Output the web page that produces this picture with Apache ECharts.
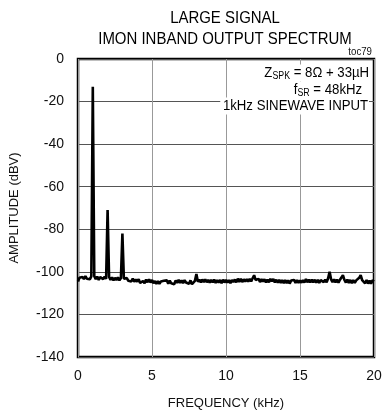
<!DOCTYPE html>
<html>
<head>
<meta charset="utf-8">
<script src="https://cdn.jsdelivr.net/npm/echarts@6/dist/echarts.min.js"></script>
<style>
html,body{margin:0;padding:0;background:#fff;}
#chart{width:385px;height:415px;}
</style>
</head>
<body>
<div id="chart"></div>
<script>
// Spectrum samples, one value every 0.1 kHz from 0.0 to 20.0 kHz (dBV)
const FREQ_START = 0;
const FREQ_STEP = 0.1;
const amp_0_to_5 = [
  -104.5,-102.8,-103.6,-102.4,-103.4,-102.0,-103.2,-102.3,-103.5,-102.1,
  -13.0,-102.0,-103.4,-102.2,-103.8,-102.5,-101.8,-103.4,-102.2,-103.3,
  -71.0,-102.4,-103.8,-102.6,-104.0,-102.8,-103.9,-102.6,-104.0,-102.9,
  -82.0,-103.2,-103.8,-102.9,-104.2,-103.3,-104.5,-103.2,-104.6,-103.6,
  -104.6,-103.5,-105.2,-106.0,-104.3,-105.4,-103.6,-104.9,-103.5,-105.0
];
const amp_5_to_10 = [
  -103.8,-105.3,-104.3,-105.6,-104.4,-105.6,-104.5,-105.4,-104.2,-105.1,
  -104.0,-105.6,-104.1,-105.4,-104.6,-105.8,-104.0,-105.2,-103.8,-105.2,
  -104.0,-105.3,-103.9,-105.0,-104.2,-105.6,-104.0,-105.8,-106.0,-104.2,
  -101.0,-104.6,-103.6,-105.0,-103.6,-104.8,-103.5,-104.9,-103.8,-105.0,
  -103.8,-104.9,-103.6,-105.2,-103.9,-105.0,-103.8,-105.3,-103.7,-105.0
];
const amp_10_to_15 = [
  -103.8,-105.1,-103.9,-105.3,-103.8,-104.8,-103.6,-104.9,-103.2,-104.7,
  -103.3,-104.8,-103.5,-104.5,-103.4,-104.6,-103.3,-104.5,-103.0,-101.6,
  -103.8,-104.6,-103.3,-104.8,-103.4,-104.5,-103.5,-105.0,-103.6,-104.9,
  -103.3,-104.4,-103.4,-105.0,-103.7,-105.1,-103.8,-105.2,-103.9,-105.3,
  -103.9,-105.3,-104.0,-105.5,-104.1,-104.9,-103.8,-105.2,-103.9,-105.2
];
const amp_15_to_20 = [
  -104.0,-105.1,-103.9,-105.0,-103.4,-104.9,-103.6,-105.0,-103.6,-105.0,
  -103.7,-105.1,-103.8,-105.2,-103.9,-103.3,-104.8,-103.7,-104.9,-103.0,
  -100.0,-103.5,-104.9,-103.5,-105.0,-103.6,-105.1,-103.7,-102.8,-101.6,
  -103.8,-105.0,-103.6,-105.2,-103.8,-105.3,-103.9,-105.2,-104.0,-103.6,
  -102.8,-101.5,-103.9,-104.8,-105.4,-103.8,-105.5,-104.1,-105.6,-104.0,
  -104.5
];
const amplitude = [].concat(amp_0_to_5, amp_5_to_10, amp_10_to_15, amp_15_to_20);

const xTicks = [0, 5, 10, 15, 20];
const yTicks = [0, -20, -40, -60, -80, -100, -120, -140];

const titleLines = ['LARGE SIGNAL', 'IMON INBAND OUTPUT SPECTRUM'];
const xName = 'FREQUENCY (kHz)';
const yName = 'AMPLITUDE (dBV)';
const tocLabel = 'toc79';

const seriesData = amplitude.map((v, i) => [+(FREQ_START + i * FREQ_STEP).toFixed(1), v]);

const FONT = '"Liberation Sans", Arial, sans-serif';
const chart = echarts.init(document.getElementById('chart'), null, {renderer: 'canvas'});

const G = {left: 76, top: 59, right: 11, bottom: 56};
const NARROW = 0.88;
const richSub = {
  m: {fontSize: 15, fontFamily: FONT, color: '#000', lineHeight: 17},
  s: {fontSize: 10, fontFamily: FONT, color: '#000', lineHeight: 10, verticalAlign: 'bottom'}
};

chart.setOption({
  backgroundColor: '#fff',
  animation: false,
  grid: {left: G.left, top: G.top, right: G.right, bottom: G.bottom,
         show: true, borderColor: '#000', borderWidth: 2.5, backgroundColor: 'transparent'},
  xAxis: {
    type: 'value', min: xTicks[0], max: xTicks[xTicks.length - 1], interval: 5,
    axisLine: {show: false},
    axisTick: {show: false},
    axisLabel: {color: '#111', fontFamily: FONT, fontSize: 14, margin: 12},
    splitLine: {show: true, lineStyle: {color: '#999', width: 1}},
    name: xName, nameLocation: 'middle', nameGap: 40,
    nameTextStyle: {color: '#111', fontFamily: FONT, fontSize: 13}
  },
  yAxis: {
    type: 'value', min: yTicks[yTicks.length - 1], max: yTicks[0], interval: 20,
    axisLine: {show: false},
    axisTick: {show: false},
    axisLabel: {color: '#111', fontFamily: FONT, fontSize: 14, margin: 14},
    splitLine: {show: true, lineStyle: {color: '#555', width: 1}},
    name: yName, nameLocation: 'middle', nameGap: 57,
    nameTextStyle: {color: '#111', fontFamily: FONT, fontSize: 13}
  },
  series: [{
    type: 'line', data: seriesData, showSymbol: false, symbol: 'none',
    lineStyle: {color: '#000', width: 2.6}, z: 3
  }],
  graphic: [
    {type: 'text', x: 225, y: 18, scaleX: NARROW, silent: true,
     style: {text: titleLines[0], font: '17px ' + FONT, fill: '#000',
             textAlign: 'center', textVerticalAlign: 'middle'}},
    {type: 'text', x: 225, y: 39, scaleX: NARROW, silent: true,
     style: {text: titleLines[1], font: '17px ' + FONT, fill: '#000',
             textAlign: 'center', textVerticalAlign: 'middle'}},
    {type: 'text', x: 372, y: 52, scaleX: NARROW, silent: true,
     style: {text: tocLabel, font: '11px ' + FONT, fill: '#111', textAlign: 'right', textVerticalAlign: 'middle'}},
    {type: 'text', x: 370, y: 73, z: 10, scaleX: NARROW, silent: true,
     style: {text: '{m|Z}{s|SPK}{m| = 8Ω + 33µH}', textAlign: 'right', textVerticalAlign: 'middle',
             backgroundColor: '#fff', padding: [0, 1, 0, 2], rich: richSub}},
    {type: 'text', x: 363, y: 90, z: 10, scaleX: NARROW, silent: true,
     style: {text: '{m|f}{s|SR}{m| = 48kHz}', textAlign: 'right', textVerticalAlign: 'middle',
             backgroundColor: '#fff', padding: [0, 1, 0, 2], rich: richSub}},
    {type: 'text', x: 369, y: 106, z: 10, scaleX: NARROW, silent: true,
     style: {text: '1kHz SINEWAVE INPUT', font: '15px ' + FONT, fill: '#000',
             textAlign: 'right', textVerticalAlign: 'middle', backgroundColor: '#fff', padding: [1, 1, 1, 3]}}
  ]
});
</script>
</body>
</html>
